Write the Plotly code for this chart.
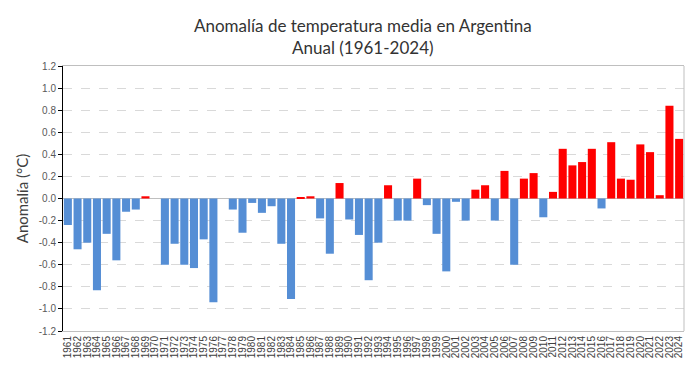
import plotly.graph_objects as go

years = [str(y) for y in range(1961, 2025)]
anomalies = [
    -0.24, -0.46, -0.40, -0.83, -0.32, -0.56, -0.12, -0.10, 0.02, 0.00,   # 1961-1970
    -0.60, -0.41, -0.60, -0.63, -0.37, -0.94, 0.00, -0.10, -0.31, -0.04,  # 1971-1980
    -0.13, -0.07, -0.41, -0.91, 0.01, 0.02, -0.18, -0.50, 0.14, -0.19,    # 1981-1990
    -0.33, -0.74, -0.40, 0.12, -0.20, -0.20, 0.18, -0.06, -0.32, -0.66,   # 1991-2000
    -0.03, -0.20, 0.08, 0.12, -0.20, 0.25, -0.60, 0.18, 0.23, -0.17,      # 2001-2010
    0.06, 0.45, 0.30, 0.33, 0.45, -0.09, 0.51, 0.18, 0.17, 0.49,          # 2011-2020
    0.42, 0.03, 0.84, 0.54,                                               # 2021-2024
]
y_ticks = [-1.2, -1.0, -0.8, -0.6, -0.4, -0.2, 0.0, 0.2, 0.4, 0.6, 0.8, 1.0, 1.2]

colors = ["#FF0000" if v > 0 else "#558ED5" for v in anomalies]

fig = go.Figure(go.Bar(x=years, y=anomalies, marker=dict(color=colors, line=dict(width=0))))

fig.update_layout(
    width=699, height=383,
    margin=dict(l=63, r=15, t=66, b=52),
    paper_bgcolor="white", plot_bgcolor="white",
    bargap=0.17,
    showlegend=False,
    title=dict(
        text="Anomalía de temperatura media en Argentina<br>Anual (1961-2024)",
        x=0.519, xanchor="center", y=0.916, yanchor="top",
        font=dict(family="Lato, Open Sans, sans-serif", size=17, color="#333333"),
    ),
    font=dict(family="Liberation Sans, Arial, sans-serif"),
)

fig.update_xaxes(
    type="category",
    tickmode="array", tickvals=years, ticktext=years,
    tickangle=-90,
    tickfont=dict(size=10, color="#404040"),
    showline=True, linecolor="#BFBFBF", linewidth=1, mirror=True,
    showgrid=False, ticks="", automargin=False,
)
fig.update_yaxes(
    range=[-1.2, 1.2],
    tickvals=y_ticks,
    ticktext=[f"{v:.1f}" for v in y_ticks],
    tickfont=dict(size=10, color="#595959"),
    showgrid=True, gridcolor="#D9D9D9", griddash="dash", gridwidth=1,
    zeroline=True, zerolinecolor="#BFBFBF", zerolinewidth=1,
    showline=True, linecolor="black", linewidth=1,
    ticks="outside", ticklen=4, tickcolor="black",
    automargin=False,
    title=dict(text="Anomalía (°C)", font=dict(family="Lato, Open Sans, sans-serif", size=15, color="#404040"), standoff=6),
)
fig.add_shape(type="line", xref="paper", yref="paper", x0=1, x1=1, y0=0, y1=1,
              line=dict(color="#BFBFBF", width=1))

fig.write_html("out.html", config={"displayModeBar": False},
               post_script="document.body.style.margin='0';")
